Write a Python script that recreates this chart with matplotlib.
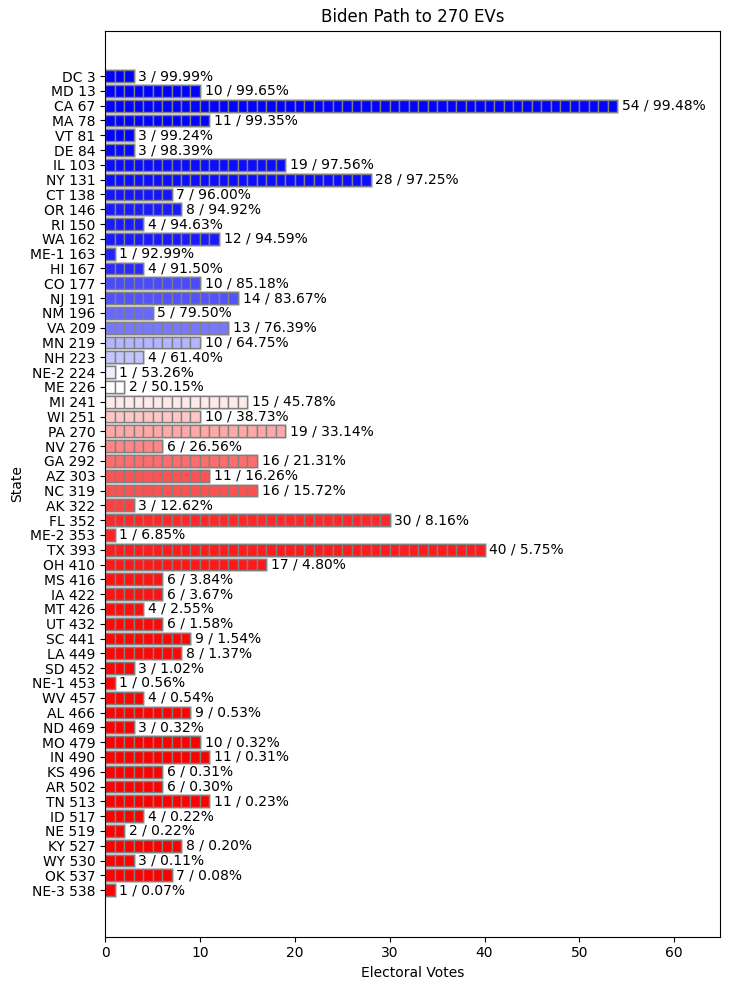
import numpy as np
import matplotlib
matplotlib.use('Agg')
import matplotlib.pyplot as plt

states = ['DC', 'MD', 'CA', 'MA', 'VT', 'DE', 'IL', 'NY', 'CT', 'OR', 'RI', 'WA',
          'ME-1', 'HI', 'CO', 'NJ', 'NM', 'VA', 'MN', 'NH', 'NE-2', 'ME', 'MI', 'WI',
          'PA', 'NV', 'GA', 'AZ', 'NC', 'AK', 'FL', 'ME-2', 'TX', 'OH', 'MS', 'IA',
          'MT', 'UT', 'SC', 'LA', 'SD', 'NE-1', 'WV', 'AL', 'ND', 'MO', 'IN', 'KS',
          'AR', 'TN', 'ID', 'NE', 'KY', 'WY', 'OK', 'NE-3']
evs = [3, 10, 54, 11, 3, 3, 19, 28, 7, 8, 4, 12,
       1, 4, 10, 14, 5, 13, 10, 4, 1, 2, 15, 10,
       19, 6, 16, 11, 16, 3, 30, 1, 40, 17, 6, 6,
       4, 6, 9, 8, 3, 1, 4, 9, 3, 10, 11, 6,
       6, 11, 4, 2, 8, 3, 7, 1]
win_prob = [99.99, 99.65, 99.48, 99.35, 99.24, 98.39, 97.56, 97.25, 96.00, 94.92, 94.63, 94.59,
            92.99, 91.50, 85.18, 83.67, 79.50, 76.39, 64.75, 61.40, 53.26, 50.15, 45.78, 38.73,
            33.14, 26.56, 21.31, 16.26, 15.72, 12.62, 8.16, 6.85, 5.75, 4.80, 3.84, 3.67,
            2.55, 1.58, 1.54, 1.37, 1.02, 0.56, 0.54, 0.53, 0.32, 0.32, 0.31, 0.31,
            0.30, 0.23, 0.22, 0.22, 0.20, 0.11, 0.08, 0.07]

cum = np.cumsum(evs)
cmap = plt.get_cmap('bwr')

fig, ax = plt.subplots(figsize=(7.3, 9.89), dpi=100)
fig.subplots_adjust(left=0.144, right=0.986, top=0.969, bottom=0.053)

for i, (ev, p) in enumerate(zip(evs, win_prob)):
    c = cmap(1 - p / 100)
    ax.barh(i, ev, height=0.8, color=c, edgecolor='lightgray', linewidth=2, zorder=1)
    for k in range(ev):
        ax.barh(i, 1, left=k, height=0.8, color=c, edgecolor='gray', linewidth=1, zorder=2)
    ax.text(ev + 0.5, i, f'{ev} / {p:.2f}%', va='center', ha='left', fontsize=10)

ax.set_yticks(range(len(states)))
ax.set_yticklabels([f'{s} {n}' for s, n in zip(states, cum)])
ax.set_ylim(len(states) + 2.14, -3.07)
ax.set_xlim(0, max(evs) * 1.2)
ax.set_title('Biden Path to 270 EVs')
ax.set_xlabel('Electoral Votes')
ax.set_ylabel('State')

fig.savefig('out.png')
